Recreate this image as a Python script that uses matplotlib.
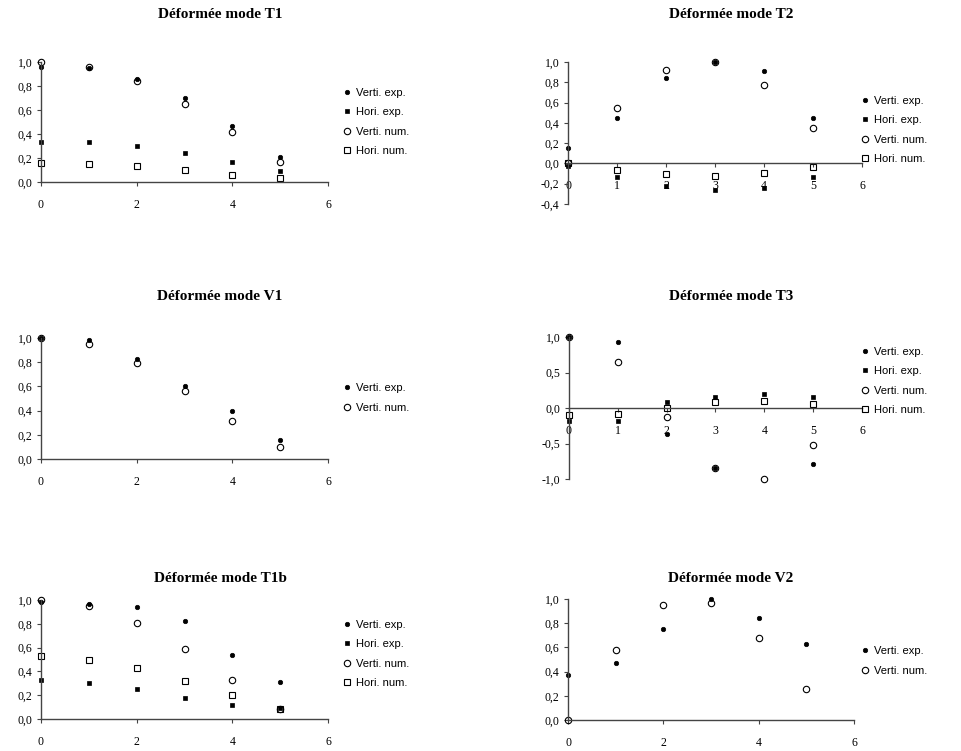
import numpy as np
import matplotlib
matplotlib.use("Agg")
import matplotlib.pyplot as plt
from matplotlib.ticker import FuncFormatter, MultipleLocator

x = [0, 1, 2, 3, 4, 5]

# Mode T1
t1_vexp = [0.96, 0.95, 0.86, 0.70, 0.47, 0.21]
t1_hexp = [0.33, 0.33, 0.30, 0.24, 0.17, 0.09]
t1_vnum = [1.00, 0.96, 0.84, 0.65, 0.42, 0.17]
t1_hnum = [0.16, 0.15, 0.13, 0.10, 0.06, 0.03]

# Mode T2
t2_vexp = [0.15, 0.45, 0.84, 1.00, 0.91, 0.45]
t2_hexp = [-0.03, -0.13, -0.22, -0.26, -0.24, -0.13]
t2_vnum = [0.00, 0.55, 0.92, 1.00, 0.77, 0.35]
t2_hnum = [0.00, -0.06, -0.10, -0.12, -0.09, -0.04]

# Mode V1
v1_vexp = [1.00, 0.98, 0.83, 0.60, 0.40, 0.16]
v1_vnum = [1.00, 0.95, 0.79, 0.56, 0.31, 0.10]

# Mode T3
t3_vexp = [1.00, 0.93, -0.36, -0.84, np.nan, -0.79]
t3_hexp = [-0.18, -0.18, 0.08, 0.15, 0.20, 0.15]
t3_vnum = [1.00, 0.65, -0.13, -0.85, -1.00, -0.52]
t3_hnum = [-0.10, -0.08, 0.00, 0.08, 0.10, 0.05]

# Mode T1b
t1b_vexp = [0.98, 0.97, 0.94, 0.82, 0.54, 0.31]
t1b_hexp = [0.33, 0.30, 0.25, 0.18, 0.12, 0.09]
t1b_vnum = [1.00, 0.95, 0.81, 0.59, 0.33, 0.08]
t1b_hnum = [0.53, 0.50, 0.43, 0.32, 0.20, 0.08]

# Mode V2
v2_vexp = [0.37, 0.47, 0.75, 1.00, 0.84, 0.63]
v2_vnum = [0.00, 0.58, 0.95, 0.97, 0.68, 0.26]

labels4 = ["Verti. exp.", "Hori. exp.", "Verti. num.", "Hori. num."]

W, H = 962, 751
fig = plt.figure(figsize=(W / 100, H / 100), dpi=100)

SERIF = ["Liberation Serif", "DejaVu Serif"]
SANS = ["Liberation Sans", "DejaVu Sans"]

styles = [
    dict(marker="o", ms=3.2, mfc="black", mec="black", mew=0.5),
    dict(marker="s", ms=3.4, mfc="black", mec="black", mew=0.5),
    dict(marker="o", ms=4.6, mfc="none", mec="black", mew=0.8),
    dict(marker="s", ms=5.0, mfc="none", mec="black", mew=0.8),
]

comma = FuncFormatter(lambda v, p: f"{v:.1f}".replace(".", ","))


def make_ax(l, r, t, b):
    return fig.add_axes([l / W, 1 - b / H, (r - l) / W, (b - t) / H])


def panel(px, title, title_cx, title_y, series, labs, ylim, ystep, xstep,
          leg_x, leg_y, zero_axis=False, yfmt=comma):
    ax = make_ax(*px)
    handles = []
    for vals, st in zip(series, styles if len(series) == 4 else [styles[0], styles[2]]):
        h, = ax.plot(x, vals, linestyle="none", clip_on=False, **st)
        handles.append(h)
    ax.set_xlim(0, 6)
    ax.set_ylim(*ylim)
    ax.xaxis.set_major_locator(MultipleLocator(xstep))
    ax.yaxis.set_major_locator(MultipleLocator(ystep))
    ax.yaxis.set_major_formatter(yfmt)
    ax.xaxis.set_major_formatter(FuncFormatter(lambda v, p: f"{int(round(v))}"))
    for s in ["top", "right"]:
        ax.spines[s].set_visible(False)
    for s in ["left", "bottom"]:
        ax.spines[s].set_color("#444444")
        ax.spines[s].set_linewidth(1.0)
    if zero_axis:
        ax.spines["bottom"].set_position(("data", 0))
    ax.tick_params(axis="both", direction="out", length=3, width=0.8,
                   color="#444444", labelsize=8.5)
    ax.tick_params(axis="x", pad=9)
    ax.tick_params(axis="y", pad=3)
    for lab in ax.get_xticklabels() + ax.get_yticklabels():
        lab.set_fontfamily(SERIF)
    fig.text(title_cx / W, 1 - title_y / H, title, ha="center", va="center",
             fontsize=11, fontweight="bold", family=SERIF)
    fig.legend(handles, labs, loc="center left",
               bbox_to_anchor=(leg_x / W, 1 - leg_y / H),
               frameon=False, prop={"family": SANS, "size": 8},
               handlelength=0.6, handletextpad=0.5, labelspacing=0.85,
               borderpad=0, borderaxespad=0)
    return ax


panel((41, 328, 62, 182), "Déformée mode T1", 220, 15,
      [t1_vexp, t1_hexp, t1_vnum, t1_hnum], labels4,
      (0, 1.0), 0.2, 2, 344, 122)

panel((568, 862, 62, 204), "Déformée mode T2", 731, 15,
      [t2_vexp, t2_hexp, t2_vnum, t2_hnum], labels4,
      (-0.4, 1.0), 0.2, 1, 862, 130, zero_axis=True)

panel((41, 328, 338, 459), "Déformée mode V1", 220, 297,
      [v1_vexp, v1_vnum], ["Verti. exp.", "Verti. num."],
      (0, 1.0), 0.2, 2, 344, 398)

panel((569, 862, 337, 479), "Déformée mode T3", 731, 297,
      [t3_vexp, t3_hexp, t3_vnum, t3_hnum], labels4,
      (-1.0, 1.0), 0.5, 1, 862, 381, zero_axis=True)

panel((41, 328, 600, 719), "Déformée mode T1b", 220, 578,
      [t1b_vexp, t1b_hexp, t1b_vnum, t1b_hnum], labels4,
      (0, 1.0), 0.2, 2, 344, 654)

panel((568, 854, 599, 720), "Déformée mode V2", 731, 578,
      [v2_vexp, v2_vnum], ["Verti. exp.", "Verti. num."],
      (0, 1.0), 0.2, 2, 862, 661)

fig.savefig("out.png", dpi=100, facecolor="white")
